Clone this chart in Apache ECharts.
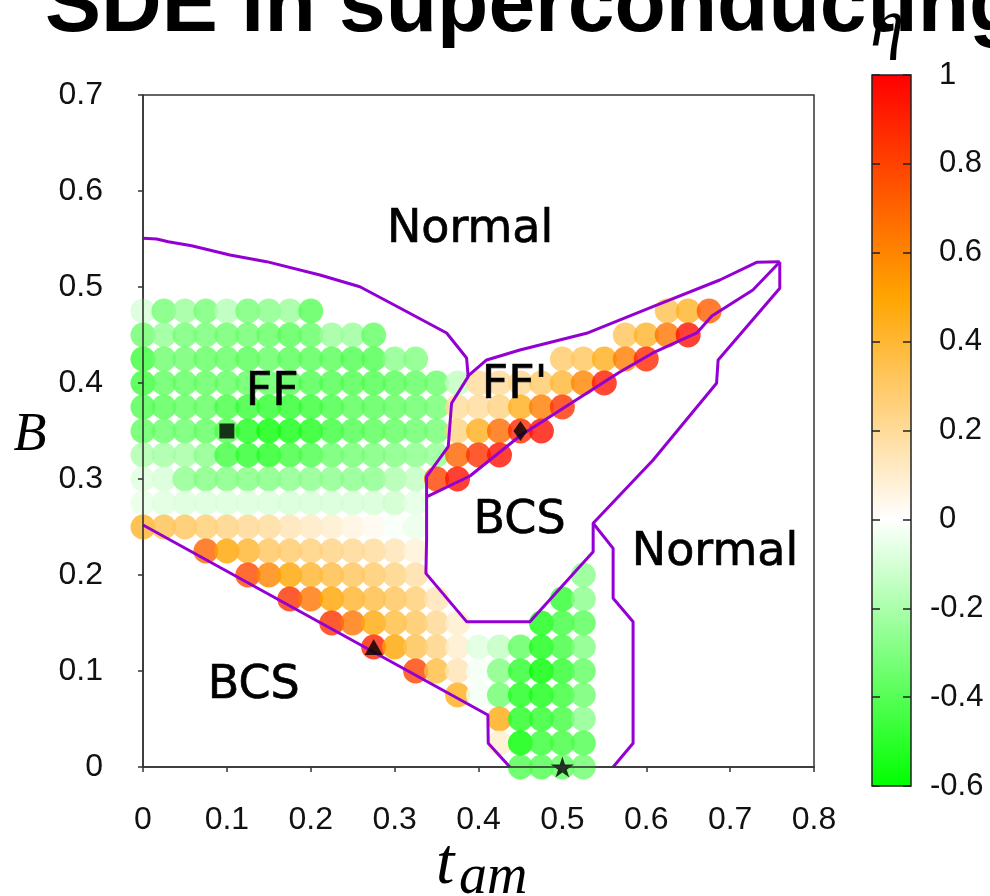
<!DOCTYPE html>
<html><head><meta charset="utf-8">
<script src="https://cdn.jsdelivr.net/npm/echarts@6/dist/echarts.min.js"></script>
<style>html,body{margin:0;padding:0;background:#fff}#c{width:990px;height:896px}</style>
</head><body><div id="c"></div>
<script>
const _ = null;
// grid of computed points (t_am columns, B rows top -> bottom)
const tValues = [0,0.025,0.05,0.075,0.1,0.125,0.15,0.175,0.2,0.225,0.25,0.275,0.3,0.325,0.35,0.375,0.4,0.425,0.45,0.475,0.5,0.525,0.55,0.575,0.6,0.625,0.65,0.675];
const BValues = [0.475,0.45,0.425,0.4,0.375,0.35,0.325,0.3,0.275,0.25,0.225,0.2,0.175,0.15,0.125,0.1,0.075,0.05,0.025,0];
// eta values, one row per B value
const etaRows = [
 [-0.10,-0.33,-0.24,-0.33,-0.18,-0.33,-0.29,-0.24,-0.40,_,_,_,_,_,_,_,_,_,_,_,_,_,_,_,_,0.35,0.43,0.72],
 [-0.35,-0.26,-0.33,-0.33,-0.35,-0.35,-0.37,-0.40,-0.37,-0.24,-0.24,-0.37,_,_,_,_,_,_,_,_,_,_,_,0.33,0.42,0.65,0.95,_],
 [-0.46,-0.35,-0.35,-0.37,-0.37,-0.40,-0.37,-0.40,-0.40,-0.40,-0.42,-0.42,-0.28,-0.30,_,_,_,_,_,_,0.30,0.32,0.45,0.62,0.88,_,_,_],
 [-0.46,-0.38,-0.38,-0.38,-0.38,-0.38,-0.38,-0.42,-0.42,-0.42,-0.42,-0.42,-0.40,-0.38,-0.36,-0.15,0.20,0.20,0.22,0.30,0.40,0.60,0.92,_,_,_,_,_],
 [-0.42,-0.40,-0.38,-0.38,-0.44,-0.48,-0.50,-0.50,-0.48,-0.44,-0.40,-0.40,-0.38,-0.36,-0.34,0.20,0.20,0.25,0.45,0.62,0.85,_,_,_,_,_,_,_],
 [-0.38,-0.36,-0.36,-0.38,-0.42,-0.53,-0.58,-0.56,-0.53,-0.46,-0.42,-0.40,-0.38,-0.36,-0.34,0.25,0.45,0.68,0.88,0.95,_,_,_,_,_,_,_,_],
 [-0.20,-0.22,-0.22,-0.28,-0.45,-0.50,-0.52,-0.45,-0.43,-0.36,-0.34,-0.32,-0.30,-0.28,-0.26,0.70,0.85,0.95,_,_,_,_,_,_,_,_,_,_],
 [-0.08,-0.10,-0.27,-0.30,-0.30,-0.30,-0.30,-0.28,-0.28,-0.28,-0.28,-0.28,-0.20,-0.15,0.80,0.95,_,_,_,_,_,_,_,_,_,_,_,_],
 [-0.06,-0.08,-0.09,-0.09,-0.09,-0.09,-0.09,-0.10,-0.10,-0.10,-0.10,-0.10,-0.12,-0.07,_,_,_,_,_,_,_,_,_,_,_,_,_,_],
 [0.42,0.35,0.32,0.28,0.25,0.22,0.20,0.15,0.12,0.10,0.06,0.03,-0.02,-0.05,_,_,_,_,_,_,_,_,_,_,_,_,_,_],
 [_,_,_,0.70,0.50,0.42,0.32,0.30,0.27,0.25,0.22,0.20,0.15,0.08,_,_,_,_,_,_,_,_,_,_,_,_,_,_],
 [_,_,_,_,_,0.78,0.60,0.50,0.42,0.37,0.33,0.30,0.25,0.18,_,_,_,_,_,_,_,-0.28,_,_,_,_,_,_],
 [_,_,_,_,_,_,_,0.85,0.65,0.50,0.42,0.37,0.33,0.28,0.15,_,_,_,_,_,-0.50,-0.28,_,_,_,_,_,_],
 [_,_,_,_,_,_,_,_,_,0.85,0.65,0.48,0.38,0.32,0.22,0.10,_,_,_,-0.55,-0.45,-0.40,_,_,_,_,_,_],
 [_,_,_,_,_,_,_,_,_,_,_,0.90,0.50,0.35,0.25,0.10,-0.08,-0.15,-0.38,-0.55,-0.45,-0.30,_,_,_,_,_,_],
 [_,_,_,_,_,_,_,_,_,_,_,_,_,0.80,0.38,0.15,-0.03,-0.30,-0.50,-0.60,-0.50,-0.38,_,_,_,_,_,_],
 [_,_,_,_,_,_,_,_,_,_,_,_,_,_,_,0.45,-0.03,-0.35,-0.53,-0.55,-0.47,-0.35,_,_,_,_,_,_],
 [_,_,_,_,_,_,_,_,_,_,_,_,_,_,_,_,_,0.47,-0.52,-0.50,-0.45,-0.28,_,_,_,_,_,_],
 [_,_,_,_,_,_,_,_,_,_,_,_,_,_,_,_,_,0.10,-0.60,-0.48,-0.45,-0.42,_,_,_,_,_,_],
 [_,_,_,_,_,_,_,_,_,_,_,_,_,_,_,_,_,_,-0.42,-0.42,-0.38,-0.35,_,_,_,_,_,_]
];
// phase boundaries [t_am, B]
const boundaryFF = [[0,0.5507],[0.0163,0.55],[0.0302,0.5472],[0.058,0.543],[0.1037,0.5333],[0.1474,0.5264],[0.211,0.5125],[0.2586,0.5003],[0.3063,0.4781],[0.362,0.4521],[0.3858,0.426],[0.3877,0.4066],[0.3679,0.3789],[0.3639,0.3336],[0.3381,0.3024],[0.3381,0.2365],[0.3373,0.2017],[0.3858,0.1514],[0.4613,0.1514],[0.5367,0.2243],[0.5367,0.2539],[0.6082,0.3198],[0.6838,0.3997],[0.6857,0.424],[0.7592,0.4986],[0.7592,0.5264]];
const boundaryFFpUpper = [[0.3862,0.4063],[0.4097,0.424],[0.4493,0.4344],[0.5288,0.4518],[0.6079,0.4795],[0.6877,0.5073],[0.7315,0.5257],[0.7592,0.5264]];
const boundaryFFpLower = [[0.3381,0.2813],[0.3898,0.3031],[0.4493,0.3448],[0.5089,0.3781],[0.5685,0.4115],[0.6079,0.4313],[0.6603,0.4521],[0.6782,0.4698],[0.7271,0.4969],[0.7592,0.526]];
const boundaryNormal = [[0.5367,0.2539],[0.5605,0.2278],[0.5605,0.1757],[0.5843,0.1514],[0.5843,0.0247],[0.5605,0]];
const boundaryBCS = [[0,0.2521],[0.4112,0.0542],[0.4116,0.0247],[0.4374,0]];
const markerPoints = [[0.1,0.35,'rect'],[0.45,0.35,'diamond'],[0.275,0.125,'triangle'],[0.5,0,'star']];
const regionLabels = [['Normal',0.39,0.559],['FF',0.154,0.39],["FF'",0.443,0.397],['BCS',0.449,0.256],['BCS',0.132,0.084],['Normal',0.682,0.223]];
const xTickLabels = ['0','0.1','0.2','0.3','0.4','0.5','0.6','0.7','0.8'];
const yTickLabels = ['0','0.1','0.2','0.3','0.4','0.5','0.6','0.7'];
const cbTickLabels = ['-0.6','-0.4','-0.2','0','0.2','0.4','0.6','0.8','1'];
// palette from eta=-0.6 to 1 in steps of 0.1
const palette = ['#00ff00','#2aff2a','#55ff55','#80ff80','#aaffaa','#d5ffd5','#ffffff','#ffedcc','#ffdb99','#ffc966','#ffb733','#ffa500','#ff8400','#ff6300','#ff4200','#ff2100','#ff0000'];

const scatterData = [];
BValues.forEach((B, r) => etaRows[r].forEach((v, i) => { if (v !== null) scatterData.push([tValues[i], B, v]); }));

const starPath = 'path://M50,0 L61,35 L98,35 L68,57 L79,91 L50,70 L21,91 L32,57 L2,35 L39,35 Z';
const markerSize = {rect: [15,15], diamond: [14,20], triangle: [18,16], star: [23,22]};

const chart = echarts.init(document.getElementById('c'));
const axisCol = '#333';
const tickFont = {fontFamily: 'Liberation Sans', fontSize: 32, color: '#111'};
const boundary = (d) => ({type:'line', data:d, xAxisIndex:0, yAxisIndex:0, symbol:'none', silent:true, z:4,
  lineStyle:{color:'#9400d3', width:3}, animation:false});
const gradStops = palette.map((c, k) => ({offset: 1 - k/(palette.length-1), color: c}));

chart.setOption({
  animation: false,
  grid: [
    {left:143, top:95, width:671, height:672, show:true, borderColor:axisCol, borderWidth:1.5, backgroundColor:'#fff'},
    {left:872, top:75, width:39, height:711, show:true, borderColor:'#222', borderWidth:1.5,
     backgroundColor: new echarts.graphic.LinearGradient(0,0,0,1, gradStops.slice().reverse())}
  ],
  xAxis: [
    {gridIndex:0, type:'value', min:0, max:0.8, interval:0.1, z:10,
     axisLine:{show:true, onZero:false, lineStyle:{color:axisCol, width:1.5}},
     axisTick:{show:true, inside:false, length:5, lineStyle:{color:axisCol, width:1.5}},
     axisLabel:Object.assign({margin:37, formatter:(v,i)=>xTickLabels[i]}, tickFont),
     splitLine:{show:false}},
    {gridIndex:1, type:'value', min:0, max:1, show:false}
  ],
  yAxis: [
    {gridIndex:0, type:'value', min:0, max:0.7, interval:0.1, z:10,
     axisLine:{show:true, onZero:false, lineStyle:{color:axisCol, width:1.5}},
     axisTick:{show:true, inside:false, length:5, lineStyle:{color:axisCol, width:1.5}},
     axisLabel:Object.assign({margin:40, formatter:(v,i)=>yTickLabels[i]}, tickFont),
     splitLine:{show:false}},
    {gridIndex:1, type:'value', position:'left', min:-0.6, max:1, interval:0.2,
     axisLine:{show:false}, axisTick:{show:true, inside:true, length:8, lineStyle:{color:'#222', width:1.5}},
     axisLabel:{show:false}, splitLine:{show:false}},
    {gridIndex:1, type:'value', position:'right', offset:0, min:-0.6, max:1, interval:0.2,
     axisLine:{show:false}, axisTick:{show:true, inside:true, length:8, lineStyle:{color:'#222', width:1.5}},
     axisLabel:Object.assign({margin:28, align:'left', formatter:(v,i)=> cbTickLabels[i].startsWith('-') ? '' : cbTickLabels[i]}, tickFont, {fontSize:31}),
     splitLine:{show:false}},
    {gridIndex:1, type:'value', position:'right', offset:0, min:-0.6, max:1, interval:0.2,
     axisLine:{show:false}, axisTick:{show:false},
     axisLabel:Object.assign({margin:19, align:'left', formatter:(v,i)=> cbTickLabels[i].startsWith('-') ? cbTickLabels[i] : ''}, tickFont, {fontSize:31}),
     splitLine:{show:false}}
  ],
  visualMap: {type:'continuous', show:false, min:-0.6, max:1, dimension:2, seriesIndex:0, inRange:{color:palette}},
  series: [
    {type:'scatter', data:scatterData, xAxisIndex:0, yAxisIndex:0, symbol:'circle', symbolSize:25, z:2, silent:true},
    boundary(boundaryFF), boundary(boundaryFFpUpper), boundary(boundaryFFpLower), boundary(boundaryNormal), boundary(boundaryBCS),
    {type:'scatter', xAxisIndex:0, yAxisIndex:0, z:6, silent:true,
     data: markerPoints.map(m => ({value:[m[0], m[1]], symbol: m[2]==='star' ? starPath : m[2], symbolSize: markerSize[m[2]], symbolKeepAspect:true})),
     itemStyle:{color:'#000'}},
    {type:'scatter', xAxisIndex:0, yAxisIndex:0, z:7, silent:true, symbolSize:1, itemStyle:{color:'rgba(0,0,0,0)'},
     data: regionLabels.map(r => ({name:r[0], value:[r[1], r[2]]})),
     label:{show:true, position:'inside', formatter:(p)=>p.name, fontFamily:'DejaVu Sans', fontSize:46, color:'#000',
            opacity:1, textBorderColor:'#000', textBorderWidth:0.7}}
  ],
  graphic: [
    {type:'text', x:45, y:8, style:{text:'SDE in superconducting', font:'bold 84px "Liberation Sans"', fill:'#000', verticalAlign:'middle', align:'left'}},
    {type:'text', x:887, y:28, style:{text:'\u03b7', font:'italic 68px "Liberation Serif"', fill:'#000', verticalAlign:'middle', align:'center'}},
    {type:'text', x:30, y:436, style:{text:'B', font:'italic 54px "Liberation Serif"', fill:'#000', verticalAlign:'middle', align:'center'}},
    {type:'text', x:436, y:866, style:{text:'t', font:'italic 66px "Liberation Serif"', fill:'#000', verticalAlign:'middle', align:'left'}},
    {type:'text', x:459, y:878, style:{text:'am', font:'italic 56px "Liberation Serif"', fill:'#000', verticalAlign:'middle', align:'left'}}
  ]
});
</script></body></html>
